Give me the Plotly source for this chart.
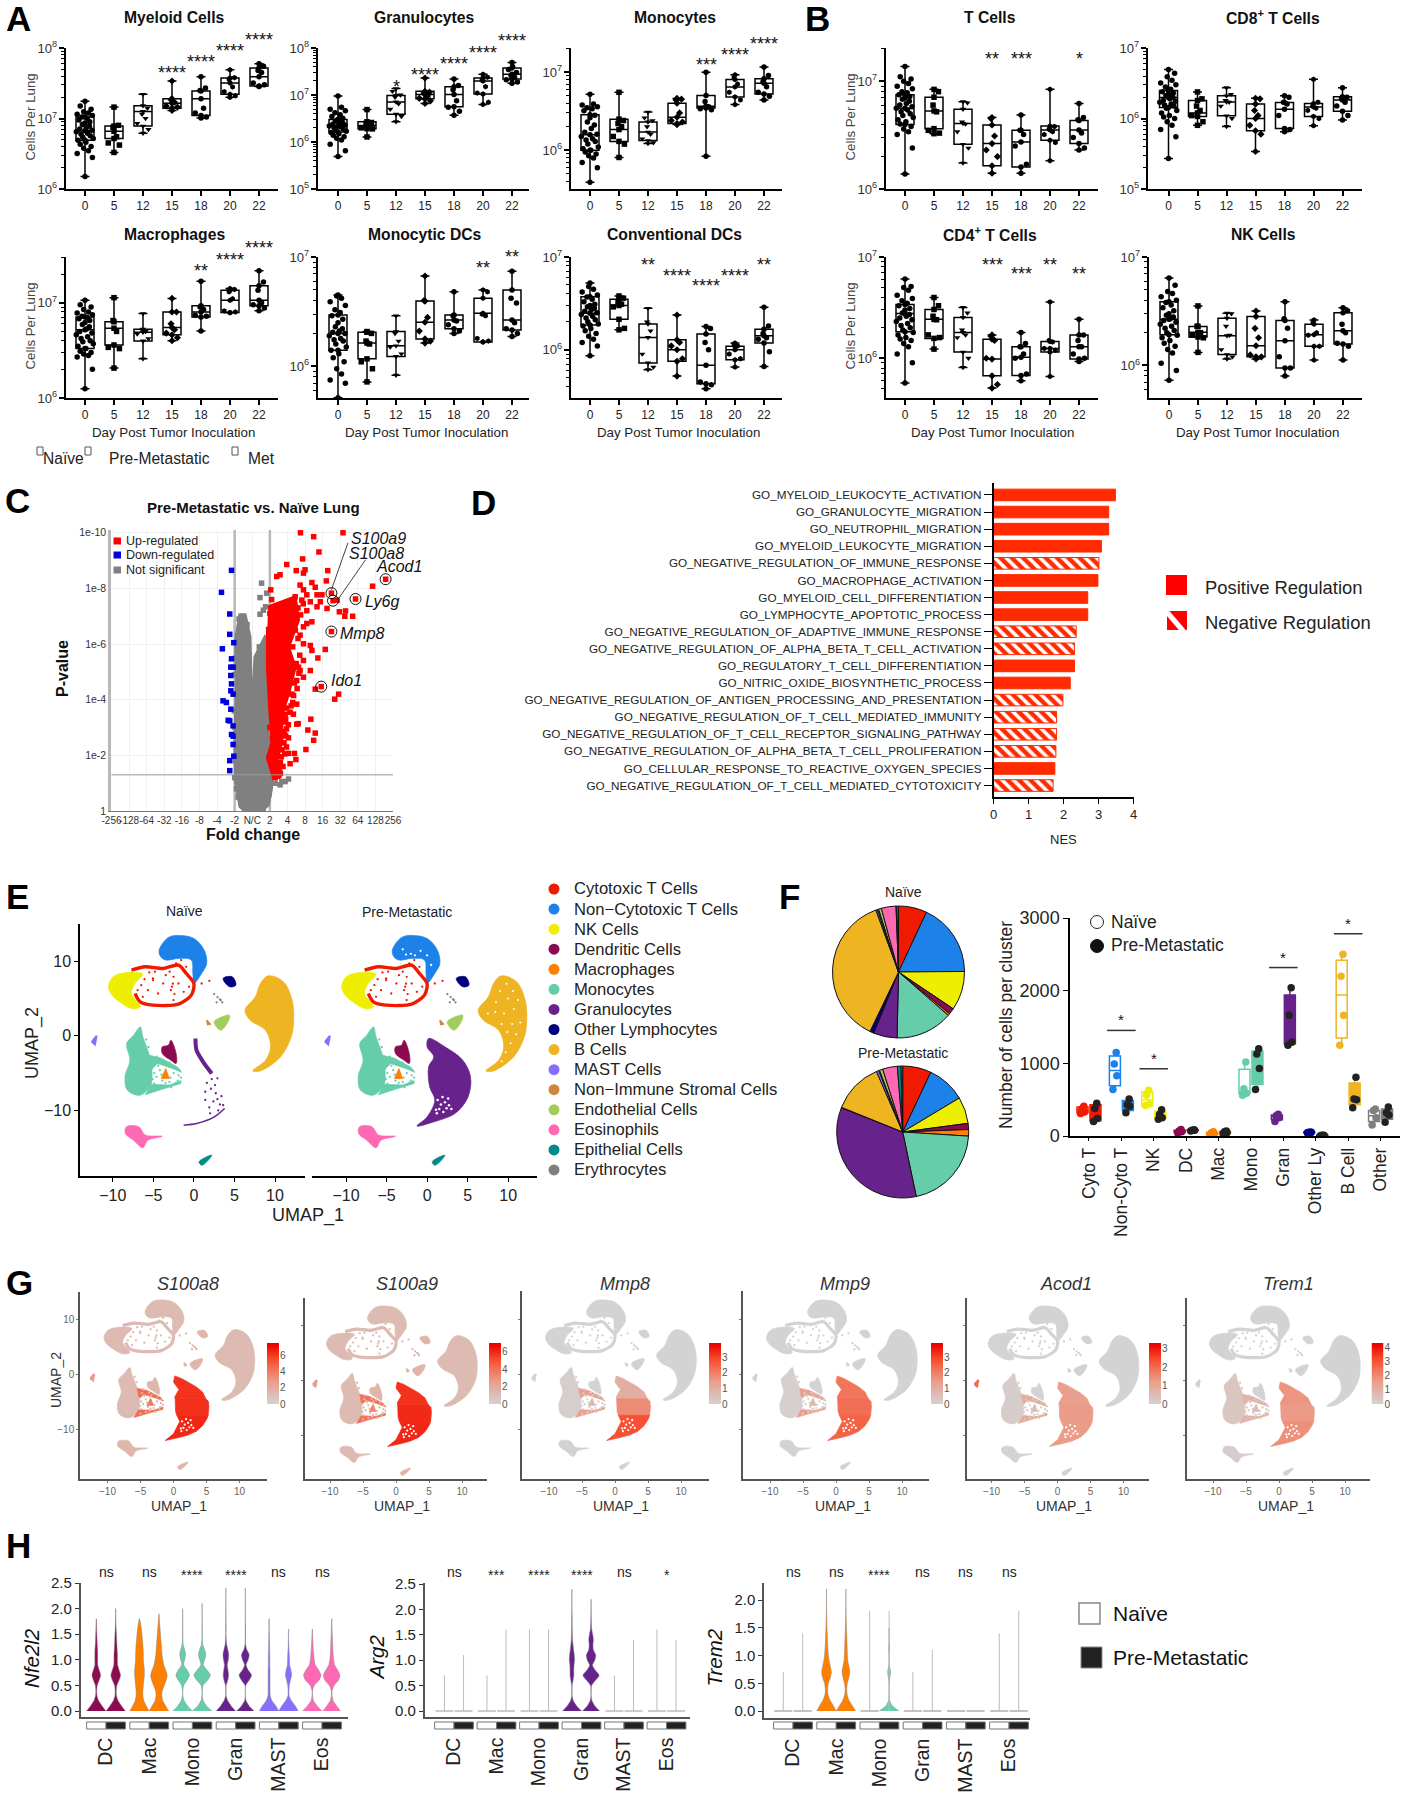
import plotly.graph_objects as go
import plotly.colors as pc

W, H = 1402, 1800
FONT = "Liberation Sans"

# ---------- DATA: panels A / B (whisker low, q1, median, q3, whisker high; cells per lung) ----------
DAYS = ["0", "5", "12", "15", "18", "20", "22"]
MYELOID = [[1.5e6,4.9e6,6.7e6,1.05e7,1.75e7],[3.3e6,5.2e6,6.6e6,7.8e6,1.45e7],[6.2e6,7.8e6,1.26e7,1.52e7,2.2e7],[1.3e7,1.4e7,1.65e7,1.9e7,3.4e7],[1.02e7,1.1e7,1.9e7,2.45e7,3.9e7],[2e7,2.2e7,3.2e7,3.75e7,4.9e7],[2.85e7,2.9e7,3.9e7,5.2e7,6e7]]
GRANULO = [[4.9e5,1.63e6,2.2e6,3e6,9.5e6],[1.28e6,1.92e6,2.25e6,2.7e6,4.9e6],[2.7e6,3.9e6,7.1e6,9.8e6,1.37e7],[6.6e6,8.3e6,1.03e7,1.2e7,2.3e7],[3.7e6,5.6e6,1.03e7,1.5e7,2.2e7],[6.3e6,1.05e7,1.98e7,2.3e7,2.75e7],[1.77e7,2.2e7,2.75e7,3.75e7,4.9e7]]
MONOCYTE = [[3.9e5,1e6,1.58e6,2.85e6,5.2e6],[8.1e5,1.3e6,1.84e6,2.5e6,5.5e6],[1.22e6,1.33e6,1.71e6,2.3e6,3.08e6],[2.13e6,2.2e6,2.64e6,4e6,4.6e6],[8.4e5,3.47e6,3.65e6,5e6,9.9e6],[3.83e6,4.8e6,6.45e6,8e6,9.2e6],[4.4e6,5.25e6,7.2e6,8.2e6,1.16e7]]
MACRO = [[1.25e6,3.3e6,5.2e6,7.1e6,1.06e7],[2.06e6,3.6e6,5.4e6,6.3e6,1.13e7],[2.58e6,3.97e6,4.9e6,5.27e6,7.7e6],[4e6,4.6e6,5.5e6,8e6,1.11e7],[5.06e6,7.1e6,8e6,9.3e6,1.68e7],[7.85e6,7.9e6,1.06e7,1.35e7,1.41e7],[8.25e6,9.3e6,1.06e7,1.51e7,2.16e7]]
MODC = [[5.15e5,1.4e6,2e6,2.95e6,4.5e6],[7.2e5,1.17e6,1.63e6,2.05e6,2.08e6],[8.3e5,1.23e6,1.54e6,2.08e6,2.9e6],[1.63e6,1.78e6,2.53e6,3.95e6,6.7e6],[2e6,2.2e6,2.65e6,2.95e6,4.8e6],[1.67e6,1.67e6,3.05e6,4.2e6,5e6],[1.87e6,2.15e6,2.65e6,5e6,7.4e6]]
CDC = [[8.6e5,1.85e6,2.47e6,3.73e6,5.26e6],[1.64e6,2.13e6,3e6,3.5e6,3.8e6],[6.1e5,7.2e5,1.36e6,1.9e6,2.8e6],[5.2e5,7.5e5,1e6,1.28e6,2.37e6],[3.8e5,4.3e5,6.8e5,1.48e6,1.78e6],[6.5e5,7.8e5,1e6,1.09e6,1.18e6],[6.6e5,1.18e6,1.42e6,1.66e6,2.87e6]]
TCELL = [[1.38e6,3.97e6,5.6e6,7.5e6,1.37e7],[3.26e6,3.63e6,5.3e6,7.1e6,8.4e6],[1.74e6,2.6e6,4.06e6,5.5e6,6.45e6],[1.4e6,1.64e6,2.64e6,3.92e6,4.6e6],[1.4e6,1.6e6,2.73e6,3.5e6,4.86e6],[1.83e6,2.83e6,3.53e6,3.84e6,8.4e6],[2.3e6,2.64e6,3.53e6,4.33e6,6.2e6]]
CD8 = [[2.7e5,1.43e6,1.98e6,2.5e6,4.97e6],[8e5,1.07e6,1.2e6,1.8e6,2.38e6],[7.7e5,1.09e6,1.72e6,2.1e6,2.74e6],[3.4e5,6.7e5,1e6,1.6e6,1.94e6],[6.5e5,7.2e5,1.35e6,1.68e6,2.1e6],[7.9e5,1.07e6,1.46e6,1.63e6,3.6e6],[9.5e5,1.27e6,1.83e6,2.04e6,2.74e6]]
CD4 = [[5.7e5,1.83e6,2.77e6,3.4e6,6.07e6],[1.23e6,1.57e6,2.42e6,3.03e6,3.98e6],[8.1e5,1.15e6,1.8e6,2.53e6,3.17e6],[5.07e5,6.7e5,9.8e5,1.54e6,1.7e6],[6e5,6.75e5,1.02e6,1.3e6,1.8e6],[6.6e5,1.15e6,1.25e6,1.46e6,3.6e6],[9.3e5,9.8e5,1.3e6,1.7e6,2.42e6]]
NKC = [[7.3e5,1.92e6,2.67e6,3.87e6,6.4e6],[1.32e6,1.83e6,2.02e6,2.29e6,3.54e6],[1.15e6,1.26e6,1.88e6,2.73e6,3.03e6],[1.15e6,1.2e6,1.52e6,2.83e6,3.18e6],[8e5,9.5e5,1.69e6,2.6e6,3.87e6],[1.12e6,1.5e6,1.92e6,2.4e6,2.63e6],[1.12e6,1.58e6,2.09e6,3.07e6,3.4e6]]

# individual mice besides the summary values (millions of cells)
MYELOID_PTS = [[2.8,3.2,3.5,3.8,4,4.3,4.6,4.9,5.2,5.4,5.7,6,6.2,6.5,6.8,7.1,7.4,7.8,8.2,8.6,9,9.5,10,10.5,11,11.5,12,12.5,13.5,15],[4.2,4.5,5.5,7.5,8],[7,8.5,10,11.5,14],[14.5,15,17,18.5],[10.5,12,14,25,27],[21,24,28,36,38],[30,32,45,48,55]]
GRANULO_PTS = [[.65,.9,1.1,1.2,1.3,1.4,1.5,1.6,1.7,1.8,1.9,2,2.1,2.2,2.3,2.4,2.5,2.6,2.8,3,3.2,3.5,3.8,4.2,4.6,5,5.5],[1.9,2,2.4,2.5,2.6],[3.5,5,6.5,9,10,12],[7.5,8.5,9.5,11,11.5],[4.5,5.5,7.5,13,16],[7,11,15,21,24],[19,21,24,26,30,35,40]]
MONOCYTE_PTS = [[.6,.7,.8,.85,.9,.95,1,1.05,1.1,1.2,1.3,1.35,1.4,1.5,1.6,1.7,1.9,2.1,2.3,2.6,2.8,3.2,3.4,3.5,3.6,3.8,3.9],[1.2,1.5,2,2.2,2.4],[1.25,1.4,1.6,2,2.4,2.6],[2.3,2.4,3,4.4,4.5],[3.3,3.4,3.6,4.2],[4.4,5.5,7,8.5],[4.9,5.5,6.5,7.5,9]]
MACRO_PTS = [[2,2.7,2.8,2.9,3,3.1,3.3,3.5,3.7,3.9,4,4.2,4.4,4.6,4.8,5,5.3,5.6,5.9,6.2,6.5,6.8,7,7.2,7.5,7.8,8,8.5,9,9.5],[3.3,3.4,5,6.5],[4.2,4.7,5,5.2],[4.3,4.8,5.2,6,8],[7.2,7.4,8.5,9],[8,8.2,11,13,13.8],[8.8,9.5,10,13.5,16.5]]
MODC_PTS = [[.7,.75,.85,.95,1.1,1.2,1.3,1.4,1.5,1.6,1.7,1.75,1.8,1.9,2,2.05,2.1,2.2,2.3,2.5,2.7,2.9,3.1,3.3,3.6,3.9,4.2,4.4],[.95,1.1,1.6,1.7,2],[1.3,1.5,1.7,2],[1.7,2.1,2.8,4],[2.1,2.4,2.6,2.9],[1.7,1.8,2.9,3,4.8],[2,2.2,2.5,4.2,3.8]]
CDC_PTS = [[1.1,1.2,1.3,1.4,1.5,1.6,1.7,1.8,1.9,2,2.1,2.2,2.3,2.4,2.5,2.6,2.7,2.8,2.9,3,3.1,3.3,3.5,3.7,3.9,4.2,4.5,4.8],[1.7,2.9,3.1,3.3,3.6],[.65,.9,1.6,2],[.8,1.1,1.2],[.42,.45,1,1.2,1.7],[.8,.9,1.1,1.15],[.95,1.3,1.35,1.5,1.8]]
TCELL_PTS = [[2.4,3.2,3.4,3.6,3.8,4,4.2,4.4,4.6,4.8,5,5.2,5.4,5.6,5.8,6,6.2,6.5,6.8,7,7.2,7.5,7.8,8,8.5,9,9.5,10,10.5,11],[3.3,3.5,5.2,6,8],[2.4,3.4,4,4.2,6.3],[2,2.3,3.1,4.5],[1.7,2.5,3.2,3.5],[2.7,3.2,3.4,3.6,3.8],[2.4,3,3.3,4.4,4.6]]
CD8_PTS = [[.55,.7,.8,.9,1,1.05,1.1,1.2,1.3,1.4,1.5,1.55,1.6,1.7,1.75,1.8,1.9,2,2.1,2.2,2.3,2.4,2.6,2.8,3,3.2,3.5,3.9,4.4],[.9,1.1,1.3,1.5,1.9],[1,1.5,1.7,1.8,2.2],[.6,.8,1.1,1.3,1.9],[.7,1.1,1.6,1.7,2],[1,1.3,1.4,1.5,1.7],[1.1,1.5,1.7,1.9,2]]
CD4_PTS = [[.9,1.1,1.3,1.4,1.5,1.55,1.6,1.7,1.8,1.9,2,2.1,2.2,2.3,2.4,2.5,2.6,2.7,2.8,3,3.1,3.3,3.5,3.7,3.9,4.2,4.7,5,5.1],[1.6,1.7,2.4,2.6,3.3],[1,1.6,1.7,1.9,2.8],[.55,1,1.5,1.65],[.7,1,1.1,1.3,1.4],[1.2,1.25,1.45,1.5],[1,1.1,1.3,1.5,1.7]]
NKC_PTS = [[.9,1.05,1.3,1.4,1.5,1.6,1.7,1.8,1.9,2,2.1,2.2,2.3,2.4,2.5,2.6,2.7,2.8,2.9,3,3.2,3.4,3.6,3.8,4,4.3,4.6,4.8,5.5],[1.8,1.9,2,2.3],[1.2,1.4,1.9,2.3,3],[1.2,1.25,1.8,2.2],[.95,1.2,2.2,2.7],[1.5,1.9,2,2.5],[1.5,1.6,2,2.4,3.2]]

# significance (day index, label, pixel height)
MYELOID_SIG = [(3,"****",69),(4,"****",58),(5,"****",47),(6,"****",36)]
GRANULO_SIG = [(2,"*",83),(3,"****",71),(4,"****",60),(5,"****",49),(6,"****",37)]
MONOCYTE_SIG = [(4,"***",61),(5,"****",51),(6,"****",40)]
MACRO_SIG = [(4,"**",267),(5,"****",256),(6,"****",244)]
MODC_SIG = [(5,"**",264),(6,"**",253)]
CDC_SIG = [(2,"**",261),(3,"****",272),(4,"****",282),(5,"****",272),(6,"**",261)]
TCELL_SIG = [(3,"**",55),(4,"***",55),(6,"*",55)]
CD4_SIG = [(3,"***",261),(4,"***",270),(5,"**",261),(6,"**",270)]

# ---------- DATA: panel C volcano (log2 fold change position, -log10 p) ----------
UP_X = [2.74,5.16,3.49,3.79,2.86,1.96,4.29,2.5,3.0,2.91,1.39,1.58,4.21,3.39,7.58,6.84,1.05,2.72,3.58,2.91,3.96,4.5,4.59,4.82,5.87,4.95,5.3,5.26,5.71,4.5,4.15,3.73,3.3,3.92,3.58,4.91,4.69,3.33,3.16,3.58,3.49,3.05,2.06,2.4,2.48,2.15,2.61,2.53,2.21,4.25,3.68,3.3,3.1,3.39,2.91,3.1,2.72,2.91,3.3,3.39,2.91,2.72,2.91,2.53,2.63,2.25,1.87,2.34,1.83,2.06,1.58,2.53,2.82,2.44,3.1,3.68,3.87,
        2.6,2.75,2.9,2.45,2.6,2.7,2.3,2.5,2.65,2.2,2.4,2.55,2.35,2.15,2.3,2.05,1.95,2.15,1.9,2.05,1.85,1.95,1.75,1.9,1.8,1.95,1.7,1.85,1.65,1.6,1.75,1.5,1.55,1.45,1.35,1.6,1.3,1.45,1.1,1.0,1.05,.95,1.0,1.1,1.2,1.0,1.15,1.25,1.3,1.2]
UP_Y = [10.0,10.0,9.86,9.31,9.06,8.86,8.64,8.64,8.67,8.55,8.43,8.49,8.27,8.21,8.33,8.08,7.95,8.12,8.04,7.95,7.77,7.83,7.56,7.58,7.62,7.16,7.19,7.0,7.0,6.45,5.81,5.5,5.05,4.47,4.38,4.2,4.02,3.3,2.91,2.8,2.54,2.21,2.07,2.07,1.85,1.7,3.14,3.84,3.78,7.28,7.34,7.52,7.2,6.8,6.62,6.74,6.32,6.01,5.95,5.77,5.41,5.05,4.81,4.69,5.17,4.2,3.48,3.48,2.75,2.63,2.57,3.12,7.58,7.7,7.77,7.77,7.52,
        7.3,7.05,7.45,6.5,6.2,5.6,5.9,5.3,4.95,5.1,4.6,4.4,4.15,4.7,3.9,4.3,3.7,3.55,3.3,3.1,3.2,2.95,2.85,2.7,2.45,2.3,2.2,2.05,1.95,1.75,1.6,1.55,1.4,1.3,1.5,1.35,1.2,1.25,7.6,7.1,6.4,5.8,5.1,4.4,3.7,3.0,2.6,2.1,1.8,1.5]
UP_DENSE_X = [.91,2.44,2.63,2.06,2.44,2.06,1.68,1.68,1.39,1.58,1.2,.86,1.14,1.01,.86,.86]
UP_DENSE_Y = [7.34,7.7,6.86,5.89,5.17,4.2,3.48,2.51,1.79,1.24,1.21,1.91,2.51,3.48,5.17,6.62]
DOWN_X = [-1.18,-1.75,-1.28,-1.28,-1.7,-1.05,-1.18,-1.22,-1.09,-1.22,-1.18,-1.22,-1.66,-1.47,-1.09,-1.22,-1.28,-1.37,-1.09,-1.18,-1.09,-1.09,-1.05,-1.28,-1.28]
DOWN_Y = [8.65,7.86,7.08,6.35,5.83,6.05,5.47,5.17,5.17,4.87,4.57,4.32,3.96,3.9,4.2,3.66,3.24,3.26,3.06,2.75,2.69,2.39,1.97,1.81,1.45]
NS_DENSE_X = [-.7,-.95,-.9,-.99,-.95,-.7,-.42,.53,.91,1.1,1.0,.95,.9,.72,.15,0,-.08,-.13,-.42]
NS_DENSE_Y = [7.1,6.13,4.69,2.27,1.06,.16,0,0,.22,.82,2.03,4.69,6.13,6.26,5.53,3.48,4.69,6.26,7.1]
NS_X = [.53,.44,.82,.44,.63,.76,1.3,1.58,1.87,2.06,1.68,
        -.75,-.55,-.85,-.3,-.25,-.95,-.2,-.98,-1.0,-1.02,-.98,-1.05,-.95,-1.0,-.9,-.8,-.62,-.42,.62,.82,.95,1.02,1.1,.98,.95,.9,.4,.3,.45,.2,-.05,.05]
NS_Y = [8.19,7.67,7.83,7.07,7.22,7.34,1.0,.94,1.06,1.15,1.06,
        6.9,7.0,6.3,6.7,6.2,5.5,5.6,4.9,4.2,3.6,3,2.4,1.8,1.2,.8,.5,.25,.1,.1,.3,.6,1.1,1.4,2.3,3.2,5.4,5.9,5.4,5.7,4.6,4.2,3.9]
GENE_X = [4.5,4.59,7.58,5.87,4.5,3.92]
GENE_Y = [7.83,7.56,8.33,7.62,6.45,4.47]
FC_TICKS = ["-256","-128","-64","-32","-16","-8","-4","-2","N/C","2","4","8","16","32","64","128","256"]
P_TICKS = ["1","1e-2","1e-4","1e-6","1e-8","1e-10"]

# ---------- DATA: panel D ----------
GO_TERMS = ["GO_MYELOID_LEUKOCYTE_ACTIVATION","GO_GRANULOCYTE_MIGRATION","GO_NEUTROPHIL_MIGRATION","GO_MYELOID_LEUKOCYTE_MIGRATION","GO_NEGATIVE_REGULATION_OF_IMMUNE_RESPONSE","GO_MACROPHAGE_ACTIVATION","GO_MYELOID_CELL_DIFFERENTIATION","GO_LYMPHOCYTE_APOPTOTIC_PROCESS","GO_NEGATIVE_REGULATION_OF_ADAPTIVE_IMMUNE_RESPONSE","GO_NEGATIVE_REGULATION_OF_ALPHA_BETA_T_CELL_ACTIVATION","GO_REGULATORY_T_CELL_DIFFERENTIATION","GO_NITRIC_OXIDE_BIOSYNTHETIC_PROCESS","GO_NEGATIVE_REGULATION_OF_ANTIGEN_PROCESSING_AND_PRESENTATION","GO_NEGATIVE_REGULATION_OF_T_CELL_MEDIATED_IMMUNITY","GO_NEGATIVE_REGULATION_OF_T_CELL_RECEPTOR_SIGNALING_PATHWAY","GO_NEGATIVE_REGULATION_OF_ALPHA_BETA_T_CELL_PROLIFERATION","GO_CELLULAR_RESPONSE_TO_REACTIVE_OXYGEN_SPECIES","GO_NEGATIVE_REGULATION_OF_T_CELL_MEDIATED_CYTOTOXICITY"]
NES = [3.48,3.29,3.29,3.08,3.01,2.98,2.69,2.69,2.36,2.31,2.31,2.19,1.98,1.8,1.8,1.78,1.75,1.7]
GO_NEGATIVE = [0,0,0,0,1,0,0,0,1,1,0,0,1,1,1,1,0,1]

# ---------- DATA: panel E / G UMAP cluster outlines (UMAP_1, UMAP_2) ----------
BLUE_X = [-4.29,-3.15,-1.9,0,1.26,1.58,.95,0,-.13,-.32,-1.9,-3.47,-4.1]
BLUE_Y = [11.5,13.2,13.47,13.06,11.5,9.7,8.37,7.02,8.37,10.16,10.38,10.16,10.6]
YELLOW_X = [-10.54,-9.97,-8.52,-6.31,-7.26,-7.7,-6.62,-7.7,-9.15,-10.1]
YELLOW_Y = [6.58,7.92,8.46,8.28,7.03,5.68,3.9,3.67,4.56,5.46]
RED_RING_X = [-7.7,-6,-3.79,-1.9,-.95,0,-.32,-1.9,-5.05,-6.62,-7.26]
RED_RING_Y = [8.81,9.26,9.04,9.49,8.37,7.02,5.46,4.25,4.12,4.56,5.68]
RED_DOT_X = [-5.05,-3.79,-2.52,-2.84,-2.52,-4.42,-5.68,-3.47,-1.9,-1.58,-2.2,-.95,-6.3,-1.26,.95,1.9,-5.05,-6.94,-2.6,-2.7,-2.4,-3,-6.5,-6.1,-5.5,-4.8,-1.2,-.6]
RED_DOT_Y = [7.47,7.02,7.92,6.13,4.79,5.68,6.13,8.14,7.02,10.16,9.7,9.26,5.23,5.9,7.02,7.38,7.7,6.13,7,6.6,5.6,8.6,6.8,7.6,8.5,8.6,8.7,6.6]
GOLD_X = [9.15,11.04,12.1,12.3,12,10.7,8.2,7.26,8.83,9.46,8.83,6.94,6.3,7.57,8.2]
GOLD_Y = [8.05,7.25,4.79,2.1,-.13,-2.8,-4.7,-4.7,-3.27,-1.48,.76,2.1,3.44,5.23,7.02]
TEAL_X = [-6.62,-6.3,-5.5,-5.2,-5.3,-6.62,-8.2,-8.5,-7.9,-8.3,-7.45]
TEAL_Y = [1.2,-.13,-2.6,-4.5,-6.5,-7.96,-7.3,-5.5,-3.27,-1.03,.09]
TEAL_LOW_X = [-5.3,-3,-1.6,-1.6,-4,-6]
TEAL_LOW_Y = [-6.5,-6.6,-6,-6.4,-7.2,-7.9]
TEAL_UP_X = [-5.5,-4,-2,-1.5,-2.6,-4.5,-5.2]
TEAL_UP_Y = [-2.6,-3,-4.2,-4.9,-4.4,-3.7,-4.5]
TEAL_DOT_X = [-4.8,-4.2,-3.7,-3,-2.4,-1.8,-1.9,-2.5,-3,-2.2,-4.6,-4.9,-4.2,-3.6,-5,-2.8,-5.2,-4.6,-5.6,-5.9,-2,-1.6,-3.9,-4.4,-3.4,-4.9,-2.9,-4,-3.5,-5.1]
TEAL_DOT_Y = [-3.5,-4.6,-3.4,-3.6,-4.1,-4.6,-5.3,-5,-6.2,-6.3,-5.5,-6.4,-6.9,-6.7,-7.2,-6.9,-4.4,-2.8,-1.5,-.5,-6,-5.6,-6,-4,-3.9,-5,-5.6,-5.2,-6.3,-5.8]
ORANGE_X = [-3.47,-3.03,-4.04]
ORANGE_Y = [-4.38,-5.73,-5.73]
MAROON_X = [-2.84,-2.2,-2.2,-2.84,-3.9,-3.9,-3.15]
MAROON_Y = [-.58,-2.37,-3.7,-3.27,-2.37,-1.48,-1.25]
PURPLE_X = [.19,2.2,4.4,5.36,5.05,3.47,.95,-1.26,0,.95,.32,.19,.82,0]
PURPLE_Y = [-.36,-1.48,-3.27,-5.5,-8.2,-10.4,-11.5,-12.1,-10.87,-8.63,-6.85,-4.16,-2.82,-1.48]
PURPLE_A_X = [.19,1.2,2.2,3.4,4.4,4.9,.25,.19,.82,0]
PURPLE_A_Y = [-.36,-.8,-1.48,-2.3,-3.27,-4.5,-4.5,-4.16,-2.82,-1.48]
PURPLE_B_X = [.25,4.9,5.3,5.36,5.25,.5,.32]
PURPLE_B_Y = [-4.5,-4.5,-5,-6,-7.5,-7.5,-6.85]
PURPLE_C_X = [.5,5.25,5.05,4.4,3.47,2.2,.95,-1.26,0,.95]
PURPLE_C_Y = [-7.5,-7.5,-8.2,-9.4,-10.4,-11.1,-11.5,-12.1,-10.87,-8.63]
PURPLE_STRAND_X = [.19,.32,1.26,2.2]
PURPLE_STRAND_Y = [-.36,-1.92,-3.7,-5.06]
PURPLE_TAIL_X = [-1.26,.32,2.52,3.79]
PURPLE_TAIL_Y = [-12,-11.77,-10.87,-9.75]
PURPLE_DOT_X = [2.2,2.6,1.6,2.1,2.7,1.4,2.9,3.2,2.4,3.6,3,2,1.4,2.9,1.9,3.4]
PURPLE_DOT_Y = [-5.8,-6.6,-6.3,-7.1,-7.7,-7.5,-8.5,-9.2,-8.8,-9.3,-10,-10.4,-8.6,-5.7,-9.6,-8.1]
HOLE_PURPLE_X = [1.3,1.7,2.2,1.5,2.4,2,2.7,1.1,2.6,3,1.9,1.2]
HOLE_PURPLE_Y = [-8.6,-9.2,-8.9,-9.8,-9.7,-10.2,-9.3,-9.9,-8.4,-9.8,-8.2,-10.4]
HOLE_GOLD_X = [9,10,10.7,9.5,8.4,10.5,9.9,11,10.3,9.7,9.2,8.5,11.2,9.8,7.5,11.5,10.6,9.2]
HOLE_GOLD_Y = [6,5,3.6,3,3.2,1.6,.5,.2,-1,-2.2,-3.4,4.5,4.8,7,3,1.8,6,1.6]
HOLE_BLUE_X = [-2,-.8,-1.5,0,-3,-2.6,.5]
HOLE_BLUE_Y = [11,11.4,10.8,10.8,11.6,10.9,9.5]
PINK_X = [-8.33,-6.8,-6,-3.9,-5.68,-6.3,-7.45,-8.45]
PINK_Y = [-12.2,-12.2,-13.3,-13.47,-14,-15,-14,-13.1]
EPI_X = [.63,2.2,1.58,.95]
EPI_Y = [-16.9,-16,-16.9,-17.36]
MAST_X = [-12.6,-12,-12.2]
MAST_Y = [-.8,0,-1.16]
NAVY_X = [3.6,4.73,5.17,4.4]
NAVY_Y = [7.7,7.92,6.8,6.58]
ERY_X = [2.5,2.9,3.2,3.5,2.8,3.3]
ERY_Y = [5.6,5.2,4.9,4.5,4.5,4.8]
GREEN_X = [2.5,4.4,4.1,3.28]
GREEN_Y = [1.88,2.77,1.66,.76]
STROMAL_X = [1.58,2,1.7]
STROMAL_Y = [2.1,1.57,1.5]

CELL_TYPES = ["Cytotoxic T Cells","Non\u2212Cytotoxic T Cells","NK Cells","Dendritic Cells","Macrophages","Monocytes","Granulocytes","Other Lymphocytes","B Cells","MAST Cells","Non\u2212Immune Stromal Cells","Endothelial Cells","Eosinophils","Epithelial Cells","Erythrocytes"]
CELL_COLORS = ["#f01a00","#1c82ea","#eeee00","#8b0a50","#ff7f00","#66cdaa","#68228b","#000080","#eeb422","#8470ff","#cd853f","#a2cd5a","#ff69b4","#008b8b","#7f7f7f"]
PIE_NAIVE = [7,18,9.6,1.5,.5,14,5.8,1,37.5,.4,.3,.7,3.6,.2,.4]
PIE_PRE = [7,9.4,6.5,1.5,1.6,20.7,34.3,.1,12.4,.6,.2,.8,3.6,.9,.4]

# ---------- DATA: panel F (n = 4 samples per group) ----------
F_CATS = ["Cyto T","Non-Cyto T","NK","DC","Mac","Mono","Gran","Other Ly","B Cell","Other"]
F_COLORS = ["#f01a00","#1c82ea","#eeee00","#8b0a50","#ff7f00","#66cdaa","#68228b","#000080","#eeb422","#7f7f7f"]
F_NAIVE = [[310,330,370,410],[640,830,990,1150],[420,440,560,630],[40,60,70,90],[15,25,45,60],[560,590,650,1020],[200,250,280,300],[45,50,50,50],[1250,1660,2200,2500],[150,250,350,370]]
F_PRE = [[200,240,380,450],[320,410,430,510],[230,250,300,360],[70,80,80,85],[30,45,60,70],[640,930,1130,1200],[1250,1290,1660,2040],[5,8,10,10],[390,500,510,810],[190,290,320,400]]
F_NAIVE_BOX = [[320,360,400],[690,900,1100],[420,500,610],[50,65,80],[20,35,52],[590,610,920],[225,265,290],[47,50,50],[1350,1940,2420],[200,280,350]]
F_PRE_BOX = [[210,310,430],[350,420,490],[240,280,340],[75,80,83],[37,52,65],[710,1040,1170],[1270,1480,1940],[6,9,10],[430,500,730],[230,300,370]]
F_SIG = [(1,1453),(2,925),(6,2318),(8,2783)]

# ---------- DATA: panel G expression per region ----------
GENES = ["S100a8","S100a9","Mmp8","Mmp9","Acod1","Trem1"]
GENE_MAX = [7.5,7.0,3.9,3.9,3.3,4.3]
GENE_TICKS = [[0,2,4,6],[0,2,4,6],[0,1,2,3],[0,1,2,3],[0,1,2,3],[0,1,2,3,4]]
# T/NK, DC, Mac, Mono, Gran top, Gran mid, Gran low, B, MAST, other, Eos, Mono band
LEVEL_S100A8 = [1.3,1.5,4,1.3,6.2,6.3,6.5,1.3,3,1.6,1.5,4.5]
LEVEL_S100A9 = [1.2,1.4,3.5,1.2,5.8,6,6.1,1.2,2.8,1.5,1.2,4]
LEVEL_MMP8 = [0,0,.8,.15,1,1.8,2.8,0,0,.05,.05,1.4]
LEVEL_MMP9 = [0,0,.8,.1,2.2,2.3,2.5,0,0,.05,0,1.4]
LEVEL_ACOD1 = [0,0,.5,.15,1.2,1.3,1.3,0,2,.05,0,.9]
LEVEL_TREM1 = [0,0,.7,.4,1.8,1.7,1.9,0,.2,0,.2,1]

# ---------- DATA: panel H violin half-widths at expression 0, .1, .2 ... ----------
H_GROUPS = ["DC","Mac","Mono","Gran","MAST","Eos"]
NFE_DC_N = [1,.6,.25,.08,.05,.1,.3,.45,.3,.15,.15,.15,.14,.1,.08,.06,.04,.03,.01]
NFE_DC_P = [1,.6,.25,.08,.06,.12,.35,.5,.35,.2,.18,.18,.15,.12,.1,.08,.05,.03,.02,.01,.005]
NFE_MAC_N = [1,.7,.45,.35,.35,.4,.45,.5,.5,.45,.4,.4,.38,.35,.3,.25,.2,.12,.01]
NFE_MAC_P = [1,.7,.4,.3,.35,.55,.75,.85,.7,.5,.4,.32,.28,.25,.2,.16,.12,.08,.05,.01]
NFE_MONO_N = [1,.5,.15,.02,.02,.1,.45,.7,.45,.1,.2,.3,.2,.05,.03,.02,.02,.015,.01,.005,.003]
NFE_MONO_P = [1,.45,.12,.02,.02,.1,.55,.85,.5,.12,.25,.38,.25,.06,.03,.02,.02,.015,.01,.006,.004,.003]
NFE_GRAN_N = [1,.55,.2,.03,.02,.04,.2,.28,.22,.15,.25,.3,.2,.08,.04,.02,.02,.02,.015,.01,.008,.006,.005,.004,.002]
NFE_GRAN_P = [.9,.4,.08,.01,.01,.04,.4,.65,.3,.08,.3,.4,.15,.03,.02,.02,.02,.01,.01,.005,.004,.004,.003,.003,.002]
NFE_MAST_N = [1,.7,.3,.12,.1,.1,.1,.1,.1,.08,.08,.07,.06,.05,.04,.03,.02,.015,.01]
NFE_MAST_P = [1,.7,.3,.06,.05,.08,.2,.32,.25,.12,.1,.08,.05,.03,.02,.01,.005]
NFE_EOS_N = [1,.5,.12,.03,.03,.2,.7,.9,.65,.3,.2,.15,.1,.08,.05,.03,.01]
NFE_EOS_P = [.9,.5,.15,.04,.05,.25,.7,.85,.6,.3,.2,.15,.12,.1,.08,.05,.04,.02,.01]
ARG_GRAN_N = [1,.5,.15,.03,.02,.03,.12,.2,.2,.22,.28,.25,.18,.12,.07,.05,.04,.03,.03,.02,.01,.01,.01,.008,.003]
ARG_GRAN_P = [.9,.4,.1,.02,.02,.06,.45,.85,.45,.15,.4,.5,.25,.2,.25,.18,.08,.05,.03,.02,.015,.01,.005]
ARG_THIN_TOP = [[.7,1.1],[.7,1.6],[1.6,1.6],None,[.7,1.4],[1.6,1.4]]
TREM_MAC_N = [1,.7,.35,.15,.12,.2,.4,.5,.4,.28,.2,.16,.12,.1,.08,.05,.04,.03,.02,.01,.005,.003,.001]
TREM_MAC_P = [1,.65,.3,.12,.08,.15,.3,.4,.32,.2,.16,.14,.12,.1,.08,.06,.04,.03,.02,.01,.005,.003,.001]
TREM_MONO_P = [1,.3,.04,.005,.005,.01,.08,.15,.05,.01,.02,.05,.03,.005,.005,.002]
TREM_THIN_TOP = [[.7,1.4],None,[1.8,None],[.7,1.1],[0,0],[1.4,1.8]]
NFE_SIG = ["ns","ns","****","****","ns","ns"]
ARG_SIG = ["ns","***","****","****","ns","*"]
TREM_SIG = ["ns","ns","****","ns","ns","ns"]

# ---------- builders ----------
fig = go.Figure()
axes_layout, shapes, annots = {}, [], []
_n = [0]

def new_axes(l, r, t, b, xr, yr, xkw=None, ykw=None):
    _n[0] += 1
    n = "" if _n[0] == 1 else str(_n[0])
    base = dict(showgrid=False, zeroline=False, showline=True, linecolor="black", linewidth=1.5, automargin=False,
                ticks="outside", tickcolor="black", tickfont=dict(family=FONT, size=12, color="#222"))
    xa = dict(base, domain=[l / W, r / W], range=xr, anchor="y" + n)
    ya = dict(base, domain=[1 - b / H, 1 - t / H], range=yr, anchor="x" + n)
    xa.update(xkw or {})
    ya.update(ykw or {})
    axes_layout["xaxis" + n] = xa
    axes_layout["yaxis" + n] = ya
    return "x" + n, "y" + n

def text(s, x, y, size=12, color="#111", anchor="center", angle=0, yanchor="middle"):
    annots.append(dict(text=s, x=x / W, y=1 - y / H, xref="paper", yref="paper", showarrow=False,
                       xanchor=anchor, yanchor=yanchor, textangle=angle,
                       font=dict(family=FONT, size=size, color=color)))

def rect(x0, y0, x1, y1, fill, line="rgba(0,0,0,0)", w=1, kind="rect"):
    shapes.append(dict(type=kind, xref="paper", yref="paper", x0=x0 / W, x1=x1 / W, y0=1 - y0 / H, y1=1 - y1 / H,
                       fillcolor=fill, line=dict(color=line, width=w)))

# ---- panels A and B ----
JIT = [0,.55,-.7,.25,-.35,.85,-.9,.4,-.15,.7,-.55,.1,-.8,.95,-.25,.6,-.45,.3,-1,.8,-.6,.15,.5,-.3]
SYMS = ["circle","square","triangle-down","diamond","circle","hexagon","circle"]

def box_panel(title, stats, extras, sig, l, tick0, r, t, b, ylog, tx, ty, xlabel_x=None, ylabel_x=None):
    step = 29.0
    xr = [(l - tick0) / step, (r - tick0) / step]
    xa, ya = new_axes(l, r, t, b, xr, ylog,
        dict(tickmode="array", tickvals=list(range(7)), ticktext=DAYS, ticklen=5, tickwidth=1.5),
        dict(type="log", dtick=1, exponentformat="power", ticklen=5, tickwidth=1.5, tickfont=dict(family=FONT, size=10.5, color="#333"),
             minor=dict(ticks="outside", ticklen=3, tickwidth=1, tickcolor="black", dtick="D1")))
    fig.add_trace(go.Box(x=list(range(7)), lowerfence=[s[0] for s in stats], q1=[s[1] for s in stats],
                         median=[s[2] for s in stats], q3=[s[3] for s in stats], upperfence=[s[4] for s in stats],
                         width=.62, whiskerwidth=.5, fillcolor="rgba(0,0,0,0)", boxpoints=False,
                         line=dict(color="black", width=1.5), xaxis=xa, yaxis=ya, hoverinfo="skip"))
    for i, (s, ex) in enumerate(zip(stats, extras)):
        ys = list(s) + [v * 1e6 for v in ex]
        spread = .3 if i == 0 else .22
        xs = [i + (JIT[k % len(JIT)] * spread if k > 4 else 0) for k in range(len(ys))]
        fig.add_trace(go.Scatter(x=xs, y=ys, mode="markers", xaxis=xa, yaxis=ya, hoverinfo="skip",
                                 marker=dict(color="black", size=5.5, symbol=SYMS[i])))
    text("<b>%s</b>" % title, tx, ty, size=15.7, color="#111")
    for d, lab, py in sig:
        text(lab, tick0 + d * step, py + 4, size=18, color="#111")
    if xlabel_x:
        text("Day Post Tumor Inoculation", xlabel_x, 433, size=13.3, color="#222")
    if ylabel_x:
        text("Cells Per Lung", ylabel_x, (t + b) / 2 - 1, size=13.3, color="#444", angle=-90)

R1, R2 = (48, 189), (257, 398)
box_panel("Myeloid Cells", MYELOID, MYELOID_PTS, MYELOID_SIG, 66, 85, 278, *R1, [6, 8], 174, 17, None, 30)
box_panel("Granulocytes", GRANULO, GRANULO_PTS, GRANULO_SIG, 318, 338, 529, *R1, [5, 8], 424, 17)
box_panel("Monocytes", MONOCYTE, MONOCYTE_PTS, MONOCYTE_SIG, 571, 590, 782, *R1, [5.506, 7.306], 674.5, 17)
box_panel("Macrophages", MACRO, MACRO_PTS, MACRO_SIG, 66, 85, 278, *R2, [6, 7.48], 174, 234, 173, 30)
box_panel("Monocytic DCs", MODC, MODC_PTS, MODC_SIG, 318, 338, 529, *R2, [5.71, 7], 425, 234, 426)
box_panel("Conventional DCs", CDC, CDC_PTS, CDC_SIG, 571, 590, 782, *R2, [5.48, 7], 674.5, 234, 678)
box_panel("T Cells", TCELL, TCELL_PTS, TCELL_SIG, 886, 905, 1098, *R1, [6, 7.308], 990, 17, None, 850)
box_panel("CD8<sup>+</sup> T Cells", CD8, CD8_PTS, [], 1148, 1168.5, 1362, *R1, [5, 7], 1273, 17)
box_panel("CD4<sup>+</sup> T Cells", CD4, CD4_PTS, CD4_SIG, 886, 905, 1098, *R2, [5.607, 7], 990, 234, 992, 850)
box_panel("NK Cells", NKC, NKC_PTS, [], 1149, 1169, 1362, *R2, [5.7, 7], 1263, 234, 1257)

for x, lab_x, lab in [(40, 41, "Naïve"), (88, 107, "Pre-Metastatic"), (235, 246, "Met")]:
    rect(x - 3, 447, x + 3, 455, "white", "#555", 1)
    text(lab, lab_x, 458, size=15.6, anchor="left", color="#222")

# ---- panel C ----
xa, ya = new_axes(111, 393, 530, 811, [-8.03, 8.0], [0, 10.1],
    dict(tickmode="array", tickvals=list(range(-8, 9)), ticktext=FC_TICKS, tickangle=0, ticks="", linecolor="#777", linewidth=1,
         showgrid=True, gridcolor="#f1f1f1", tickfont=dict(family=FONT, size=10, color="#333")),
    dict(tickmode="array", tickvals=[0, 2, 4, 6, 8, 10], ticktext=P_TICKS, ticks="", linecolor="#b8b8b8", linewidth=2.5,
         showgrid=True, gridcolor="#f1f1f1", tickfont=dict(family=FONT, size=10.5, color="#333")))
for vx in (-1, 1):
    fig.add_trace(go.Scatter(x=[vx, vx], y=[0, 10.1], mode="lines", line=dict(color="#b8b8b8", width=2.5), xaxis=xa, yaxis=ya, hoverinfo="skip"))
fig.add_trace(go.Scatter(x=NS_DENSE_X, y=NS_DENSE_Y, fill="toself", fillcolor="#808080", mode="lines", line=dict(color="#808080", width=3), xaxis=xa, yaxis=ya, hoverinfo="skip"))
fig.add_trace(go.Scatter(x=NS_X, y=NS_Y, mode="markers", marker=dict(color="#808080", symbol="square", size=5.5), xaxis=xa, yaxis=ya, hoverinfo="skip"))
fig.add_trace(go.Scatter(x=UP_DENSE_X, y=UP_DENSE_Y, fill="toself", fillcolor="#ff0000", mode="lines", line=dict(color="#ff0000", width=3), xaxis=xa, yaxis=ya, hoverinfo="skip"))
fig.add_trace(go.Scatter(x=UP_X, y=UP_Y, mode="markers", marker=dict(color="#ff0000", symbol="square", size=5.5), xaxis=xa, yaxis=ya, hoverinfo="skip"))
fig.add_trace(go.Scatter(x=DOWN_X, y=DOWN_Y, mode="markers", marker=dict(color="#0000e0", symbol="square", size=5.5), xaxis=xa, yaxis=ya, hoverinfo="skip"))
fig.add_trace(go.Scatter(x=[-8, 8], y=[1.3, 1.3], mode="lines", line=dict(color="#999", width=1), xaxis=xa, yaxis=ya, hoverinfo="skip"))
fig.add_trace(go.Scatter(x=GENE_X, y=GENE_Y, mode="markers", marker=dict(color="rgba(0,0,0,0)", symbol="circle", size=11, line=dict(color="#111", width=1)), xaxis=xa, yaxis=ya, hoverinfo="skip"))
fig.add_trace(go.Scatter(x=[5.44, 4.5], y=[9.64, 7.95], mode="lines", line=dict(color="#111", width=.8), xaxis=xa, yaxis=ya, hoverinfo="skip"))
fig.add_trace(go.Scatter(x=[6.44, 4.91], y=[9.03, 7.64], mode="lines", line=dict(color="#111", width=.8), xaxis=xa, yaxis=ya, hoverinfo="skip"))
text("<b>Pre-Metastatic vs. Naïve Lung</b>", 253, 507, size=15)
text("<b>P-value</b>", 63, 669, size=16, angle=-90)
text("<b>Fold change</b>", 253, 834, size=16)
for py, c, lab in [(541, "#ff0000", "Up-regulated"), (555, "#0000e0", "Down-regulated"), (570, "#808080", "Not significant")]:
    rect(113.5, py - 3.5, 121, py + 3.5, c)
    text(lab, 124, py, size=12.5, anchor="left", color="#222")
for lab, x, y in [("S100a9", 349, 538), ("S100a8", 347, 553), ("Acod1", 373.5, 567), ("Ly6g", 363, 601), ("Mmp8", 338, 633), ("Ido1", 329, 680)]:
    text("<i>%s</i>" % lab, x, y, size=16, anchor="left", color="#111")

# ---- panel D ----
xa, ya = new_axes(993.6, 1133.6, 483, 797, [0, 4], [17.67, -.7],
    dict(tickmode="linear", tick0=0, dtick=1, ticklen=5, tickfont=dict(family=FONT, size=13, color="#222")),
    dict(tickmode="array", tickvals=list(range(18)), ticktext=GO_TERMS, ticklen=8, tickfont=dict(family=FONT, size=11.7, color="#222")))
POS = [i for i, g in enumerate(GO_NEGATIVE) if not g]
NEG = [i for i, g in enumerate(GO_NEGATIVE) if g]
fig.add_trace(go.Bar(y=POS, x=[NES[i] for i in POS], orientation="h", width=.68, xaxis=xa, yaxis=ya, hoverinfo="skip",
                     marker=dict(color="#ff2a00", line=dict(color="#ff2a00", width=1))))
fig.add_trace(go.Bar(y=NEG, x=[NES[i] for i in NEG], orientation="h", width=.68, xaxis=xa, yaxis=ya, hoverinfo="skip",
                     marker=dict(color="#ff2a00", line=dict(color="#ff2a00", width=1),
                                 pattern=dict(shape="\\", bgcolor="#ffffff", fgcolor="#ff2a00", fgopacity=1, size=8, solidity=.55))))
text("NES", 1063, 839, size=13, color="#222")
rect(1166, 575, 1187, 595, "#ff0000")
rect(1167, 611, 1187, 630, "#ff0000")
shapes.append(dict(type="line", xref="paper", yref="paper", x0=1166 / W, x1=1184 / W, y0=1 - 611 / H, y1=1 - 632 / H, line=dict(color="white", width=5)))
text("Positive Regulation", 1203, 587, size=18.4, anchor="left", color="#222")
text("Negative Regulation", 1203, 622, size=18.4, anchor="left", color="#222")

# ---- panel E ----
def polygon(xa, ya, x, y, color, opacity=None, lw=.7, smooth=False):
    fig.add_trace(go.Scatter(x=x + x[:1], y=y + y[:1], fill="toself", fillcolor=color, mode="lines",
                             line=dict(color=color, width=lw, shape="spline" if smooth else "linear", smoothing=1.0),
                             xaxis=xa, yaxis=ya, hoverinfo="skip", opacity=opacity))

def dots(xa, ya, x, y, color, size=2.3):
    fig.add_trace(go.Scatter(x=x, y=y, mode="markers", marker=dict(color=color, size=size), xaxis=xa, yaxis=ya, hoverinfo="skip"))

def path(xa, ya, x, y, color, width):
    fig.add_trace(go.Scatter(x=x, y=y, mode="lines", line=dict(color=color, width=width, shape="spline", smoothing=.8), xaxis=xa, yaxis=ya, hoverinfo="skip"))

C = dict(zip(CELL_TYPES, CELL_COLORS))
def umap_panel(xa, ya, pre):
    polygon(xa, ya, YELLOW_X, YELLOW_Y, C["NK Cells"], smooth=True)
    polygon(xa, ya, BLUE_X, BLUE_Y, C[CELL_TYPES[1]], smooth=True)
    if pre:
        dots(xa, ya, HOLE_BLUE_X, HOLE_BLUE_Y, "white")
    path(xa, ya, RED_RING_X, RED_RING_Y, C["Cytotoxic T Cells"], 3.4)
    dots(xa, ya, RED_DOT_X, RED_DOT_Y, C["Cytotoxic T Cells"])
    polygon(xa, ya, GOLD_X, GOLD_Y, C["B Cells"], smooth=True)
    if pre:
        dots(xa, ya, HOLE_GOLD_X, HOLE_GOLD_Y, "white", 2)
    t = C["Monocytes"]
    polygon(xa, ya, TEAL_X, TEAL_Y, t, smooth=True)
    polygon(xa, ya, TEAL_LOW_X, TEAL_LOW_Y, t)
    polygon(xa, ya, TEAL_UP_X, TEAL_UP_Y, t)
    dots(xa, ya, TEAL_DOT_X, TEAL_DOT_Y, t)
    polygon(xa, ya, MAROON_X, MAROON_Y, C["Dendritic Cells"], smooth=True)
    polygon(xa, ya, ORANGE_X, ORANGE_Y, C["Macrophages"])
    g = C["Granulocytes"]
    if pre:
        polygon(xa, ya, PURPLE_X, PURPLE_Y, g, smooth=True)
        dots(xa, ya, HOLE_PURPLE_X, HOLE_PURPLE_Y, "white", 2.5)
    else:
        path(xa, ya, PURPLE_STRAND_X, PURPLE_STRAND_Y, g, 4)
        path(xa, ya, PURPLE_TAIL_X, PURPLE_TAIL_Y, g, 1.6)
        dots(xa, ya, PURPLE_DOT_X, PURPLE_DOT_Y, g)
    polygon(xa, ya, PINK_X, PINK_Y, C["Eosinophils"], smooth=True)
    polygon(xa, ya, EPI_X, EPI_Y, C["Epithelial Cells"], smooth=True)
    polygon(xa, ya, MAST_X, MAST_Y, C["MAST Cells"], lw=2)
    polygon(xa, ya, NAVY_X, NAVY_Y, C["Other Lymphocytes"], smooth=True)
    dots(xa, ya, ERY_X, ERY_Y, C["Erythrocytes"])
    polygon(xa, ya, GREEN_X, GREEN_Y, C["Endothelial Cells"], smooth=True)
    polygon(xa, ya, STROMAL_X, STROMAL_Y, C[CELL_TYPES[10]], lw=1.5)

tf16 = dict(family=FONT, size=16, color="#222")
xa, ya = new_axes(80, 305, 924, 1176, [-14.05, 13.7], [-18.8, 15],
    dict(tickvals=[-10, -5, 0, 5, 10], ticktext=["\u221210", "\u22125", "0", "5", "10"], ticklen=4, tickfont=tf16),
    dict(tickvals=[-10, 0, 10], ticktext=["\u221210", "0", "10"], ticklen=4, tickfont=tf16))
umap_panel(xa, ya, False)
xa, ya = new_axes(312, 536.5, 924, 1176, [-14.2, 13.5], [-18.8, 15],
    dict(tickvals=[-10, -5, 0, 5, 10], ticktext=["\u221210", "\u22125", "0", "5", "10"], ticklen=4, tickfont=tf16),
    dict(visible=False))
umap_panel(xa, ya, True)
text("Naïve", 184, 911, size=14, color="#222")
text("Pre-Metastatic", 407, 912, size=14, color="#222")
text("UMAP_1", 308, 1215, size=18, color="#222")
text("UMAP_2", 32, 1043, size=18, color="#222", angle=-90)
for i, (lab, col) in enumerate(zip(CELL_TYPES, CELL_COLORS)):
    py = 889 + i * 20.07
    rect(548.5, py - 5.5, 559.5, py + 5.5, col, kind="circle")
    text(lab, 572, py, size=16.6, anchor="left", color="#222")

# ---- panel F ----
def pie(values, cx, cy, r=66):
    fig.add_trace(go.Pie(values=values, labels=CELL_TYPES, sort=False, direction="clockwise", rotation=0,
                         textinfo="none", hoverinfo="skip", marker=dict(colors=CELL_COLORS, line=dict(color="#111", width=1)),
                         domain=dict(x=[(cx - r) / W, (cx + r) / W], y=[1 - (cy + r) / H, 1 - (cy - r) / H])))
pie(PIE_NAIVE, 898.5, 972)
pie(PIE_PRE, 902.7, 1132)
text("Naïve", 903, 892, size=14, color="#222")
text("Pre-Metastatic", 903, 1053, size=14, color="#222")

tf18 = dict(family=FONT, size=18, color="#222")
xa, ya = new_axes(1070, 1400, 918, 1136, [-.586, 9.6], [0, 3000],
    dict(tickvals=list(range(10)), ticktext=F_CATS, tickangle=-90, ticklen=3, tickfont=dict(family=FONT, size=17.5, color="#222")),
    dict(tickvals=[0, 1000, 2000, 3000], ticklen=5, tickfont=tf18))
OFF = [-.06, .06, -.02, .04]
for i, col in enumerate(F_COLORS):
    for side, pts, bx, fill, mc in [(-.2, F_NAIVE[i], F_NAIVE_BOX[i], "rgba(0,0,0,0)", col), (.2, F_PRE[i], F_PRE_BOX[i], col, "#222")]:
        fig.add_trace(go.Box(x=[i + side], lowerfence=[min(pts)], q1=[bx[0]], median=[bx[1]], q3=[bx[2]], upperfence=[max(pts)],
                             width=.34, whiskerwidth=0, fillcolor=fill, boxpoints=False, line=dict(color=col, width=1.5),
                             xaxis=xa, yaxis=ya, hoverinfo="skip"))
        fig.add_trace(go.Scatter(x=[i + side + o for o in OFF], y=pts, mode="markers", marker=dict(color=mc, size=7.5),
                                 xaxis=xa, yaxis=ya, hoverinfo="skip"))
for i, yv in F_SIG:
    fig.add_trace(go.Scatter(x=[i - .44, i + .44], y=[yv, yv], mode="lines", line=dict(color="#333", width=1.5), xaxis=xa, yaxis=ya, hoverinfo="skip"))
    annots.append(dict(text="*", x=i, y=yv, xref=xa, yref=ya, showarrow=False, yanchor="bottom", font=dict(family=FONT, size=15, color="#111")))
text("Number of cells per cluster", 1006, 1025, size=17.5, color="#222", angle=-90)
rect(1090.5, 915.5, 1103.5, 928.5, "white", "#222", 1, kind="circle")
rect(1090.5, 939.5, 1103.5, 952.5, "#111", "#111", 1, kind="circle")
text("Naïve", 1109, 922, size=17.5, anchor="left", color="#222")
text("Pre-Metastatic", 1109, 945, size=17.5, anchor="left", color="#222")

# ---- panel G ----
CS = [[0, "#d3d3d3"], [.4, "#eb9a86"], [.75, "#f8492a"], [1, "#e80000"]]
def shade(v, m):
    return pc.sample_colorscale(CS, [min(1, v / m)])[0]

def colorbar(vmax, ticks, x):
    steps = [vmax * k / 24 for k in range(25)]
    gf = dict(family=FONT, size=10, color="#555")
    xa, ya = new_axes(x, x + 12, 1343, 1404, [0, 1], [0, vmax],
        dict(visible=False), dict(side="right", tickvals=ticks, ticks="", showline=False, tickfont=gf))
    fig.add_trace(go.Heatmap(x=[0, 1], y=steps, z=[[v, v] for v in steps], zmin=0, zmax=vmax, colorscale=CS,
                             zsmooth="best", showscale=False, hoverinfo="skip", xaxis=xa, yaxis=ya))

def feature_panel(gene, levels, vmax, ticks, l, r, t, b, x0, y0, bar_x, show_y):
    sx, sy = 6.6, 5.5
    gf = dict(family=FONT, size=10, color="#666")
    xa, ya = new_axes(l, r, t, b, [(l - x0) / sx, (r - x0) / sx], [(y0 - b) / sy, (y0 - t) / sy],
        dict(tickvals=[-10, -5, 0, 5, 10], ticktext=["\u221210", "\u22125", "0", "5", "10"], ticklen=2, linecolor="#555", tickcolor="#777", tickfont=gf),
        dict(tickvals=[-10, 0, 10], ticktext=["\u221210", "0", "10"], showticklabels=show_y, ticklen=2, linecolor="#555", tickcolor="#777", tickfont=gf))
    c = [shade(v, vmax) for v in levels]
    polygon(xa, ya, YELLOW_X, YELLOW_Y, c[0], smooth=True)
    polygon(xa, ya, BLUE_X, BLUE_Y, c[0], smooth=True)
    path(xa, ya, RED_RING_X, RED_RING_Y, c[0], 3.2)
    dots(xa, ya, RED_DOT_X, RED_DOT_Y, c[0])
    polygon(xa, ya, GOLD_X, GOLD_Y, c[7], smooth=True)
    polygon(xa, ya, TEAL_X, TEAL_Y, c[3], smooth=True)
    polygon(xa, ya, TEAL_LOW_X, TEAL_LOW_Y, c[11])
    polygon(xa, ya, TEAL_UP_X, TEAL_UP_Y, c[11])
    dots(xa, ya, TEAL_DOT_X, TEAL_DOT_Y, c[3])
    polygon(xa, ya, MAROON_X, MAROON_Y, c[1], smooth=True)
    polygon(xa, ya, ORANGE_X, ORANGE_Y, c[2])
    polygon(xa, ya, PURPLE_A_X, PURPLE_A_Y, c[4])
    polygon(xa, ya, PURPLE_B_X, PURPLE_B_Y, c[5])
    polygon(xa, ya, PURPLE_C_X, PURPLE_C_Y, c[6])
    dots(xa, ya, HOLE_PURPLE_X, HOLE_PURPLE_Y, "white", 2.2)
    polygon(xa, ya, PINK_X, PINK_Y, c[10], smooth=True)
    polygon(xa, ya, EPI_X, EPI_Y, c[9], smooth=True)
    polygon(xa, ya, MAST_X, MAST_Y, c[8], lw=2)
    polygon(xa, ya, NAVY_X, NAVY_Y, c[9], smooth=True)
    dots(xa, ya, ERY_X, ERY_Y, c[9])
    polygon(xa, ya, GREEN_X, GREEN_Y, c[9], smooth=True)
    polygon(xa, ya, STROMAL_X, STROMAL_Y, c[9], lw=1.5)
    colorbar(vmax, ticks, bar_x)

G_LEVELS = [LEVEL_S100A8, LEVEL_S100A9, LEVEL_MMP8, LEVEL_MMP9, LEVEL_ACOD1, LEVEL_TREM1]
G_GEOM = [(80, 267, 1292, 1479, 173.5, 1374, 267), (305, 487, 1298, 1479, 396, 1380, 489), (522, 708.5, 1291, 1479, 615, 1374, 709),
          (742.5, 929, 1291, 1479, 836, 1374, 931), (966.6, 1149, 1298, 1479, 1057.6, 1380, 1149), (1187, 1370, 1298, 1479, 1279, 1380, 1371.5)]
G_TX = [188, 407, 624.5, 844.5, 1066, 1288]
G_LX = [179, 402, 621, 843, 1064, 1286]
for i, gene in enumerate(GENES):
    g = G_GEOM[i]
    feature_panel(gene, G_LEVELS[i], GENE_MAX[i], GENE_TICKS[i], g[0], g[1], g[2], g[3], g[4], g[5], g[6], i == 0)
    text("<i>%s</i>" % gene, G_TX[i], 1284, size=18, color="#333")
    text("UMAP_1", G_LX[i], 1506, size=14, color="#333")
text("UMAP_2", 56, 1380, size=14, color="#333", angle=-90)

# ---- panel H ----
LEVEL_STEP = .1
def violin(xa, ya, center, widths, color, hw=.225):
    ys = [k * LEVEL_STEP for k in range(len(widths))]
    xs = [center + w * hw for w in widths] + [center - w * hw for w in widths[::-1]]
    fig.add_trace(go.Scatter(x=xs, y=ys + ys[::-1], fill="toself", fillcolor=color, mode="lines",
                             line=dict(color="#888", width=.5, shape="spline", smoothing=.6), xaxis=xa, yaxis=ya, hoverinfo="skip"))

def thin(xa, ya, center, top, hw=.21):
    fig.add_trace(go.Scatter(x=[center - hw, center + hw], y=[0, 0], mode="lines", line=dict(color="#999", width=1.2), xaxis=xa, yaxis=ya, hoverinfo="skip"))
    if top:
        fig.add_trace(go.Scatter(x=[center, center], y=[0, top], mode="lines", line=dict(color="#bbb", width=1), xaxis=xa, yaxis=ya, hoverinfo="skip"))

def violin_panel(label, sig, l, r, t, b, x0, step, y0, sy, ticks, ylab_x):
    tf = dict(family=FONT, size=15, color="#222")
    xa, ya = new_axes(l, r, t, b, [(l - x0) / step, (r - x0) / step], [(y0 - b) / sy, (y0 - t) / sy],
        dict(tickvals=list(range(6)), ticktext=H_GROUPS, tickangle=-90, ticks="outside", ticklen=11, tickcolor="rgba(0,0,0,0)", linecolor="#555",
             tickfont=dict(family=FONT, size=19.5, color="#222")),
        dict(tickvals=ticks, tickformat=".1f", ticklen=4, linecolor="#555", tickcolor="#333", tickfont=tf))
    for i in range(6):
        text(sig[i], x0 + i * step, 1572 + (3 if "*" in sig[i] else 0), size=14, color="#222")
        px = x0 + i * step
        rect(px - 19.4, 1722, px, 1729, "white", "#777", 1)
        rect(px, 1722, px + 19.4, 1729, "#222", "#777", 1)
    text("<i>%s</i>" % label, ylab_x, 1658, size=20.5, angle=-90)
    return xa, ya

GC = [C["Dendritic Cells"], C["Macrophages"], C["Monocytes"], C["Granulocytes"], C["MAST Cells"], C["Eosinophils"]]
xa, ya = violin_panel("Nfe2l2", NFE_SIG, 80.5, 348, 1583, 1717, 106, 43.2, 1711, 51.2, [0, .5, 1, 1.5, 2, 2.5], 31)
NFE = [(NFE_DC_N, NFE_DC_P), (NFE_MAC_N, NFE_MAC_P), (NFE_MONO_N, NFE_MONO_P), (NFE_GRAN_N, NFE_GRAN_P), (NFE_MAST_N, NFE_MAST_P), (NFE_EOS_N, NFE_EOS_P)]
for i, (n, p) in enumerate(NFE):
    violin(xa, ya, i - .225, n, GC[i])
    violin(xa, ya, i + .225, p, GC[i])

xa, ya = violin_panel("Arg2", ARG_SIG, 424.7, 690, 1583, 1717, 454, 42.5, 1711, 50.8, [0, .5, 1, 1.5, 2, 2.5], 375.5)
for i, tops in enumerate(ARG_THIN_TOP):
    if tops is None:
        violin(xa, ya, i - .225, ARG_GRAN_N, GC[i])
        violin(xa, ya, i + .225, ARG_GRAN_P, GC[i])
    else:
        thin(xa, ya, i - .225, tops[0])
        thin(xa, ya, i + .225, tops[1])

xa, ya = violin_panel("Trem2", TREM_SIG, 764, 1030, 1583, 1718, 793, 43.2, 1711, 55.5, [0, .5, 1, 1.5, 2], 713.5)
for i, tops in enumerate(TREM_THIN_TOP):
    if tops is None:
        violin(xa, ya, i - .225, TREM_MAC_N, GC[i])
        violin(xa, ya, i + .225, TREM_MAC_P, GC[i])
    else:
        thin(xa, ya, i - .225, tops[0])
        if tops[1] is None:
            violin(xa, ya, i + .225, TREM_MONO_P, GC[i])
            thin(xa, ya, i + .225, 1.8, hw=0)
        else:
            thin(xa, ya, i + .225, tops[1])

rect(1079, 1603, 1100, 1624, "white", "#888", 1.5)
rect(1081, 1647, 1102, 1668, "#222", "#888", 1)
text("Naïve", 1111, 1613, size=21, anchor="left", color="#111")
text("Pre-Metastatic", 1111, 1657, size=21, anchor="left", color="#111")

# ---- panel letters ----
for lab, x, y in [("A", 18, 18), ("B", 817, 18), ("C", 17, 500), ("D", 483, 502), ("E", 17, 897), ("F", 789, 897), ("G", 19, 1282), ("H", 18, 1545)]:
    text("<b>%s</b>" % lab, x, y, size=35, color="#000")

fig.update_layout(width=W, height=H, autosize=False, margin=dict(l=0, r=0, t=0, b=0, pad=0), showlegend=False,
                  paper_bgcolor="white", plot_bgcolor="rgba(0,0,0,0)", boxmode="overlay", barmode="overlay",
                  font=dict(family=FONT), annotations=annots, shapes=shapes, **axes_layout)
fig.write_html("out.html", config={"displayModeBar": False}, post_script="document.body.style.margin='0';")
